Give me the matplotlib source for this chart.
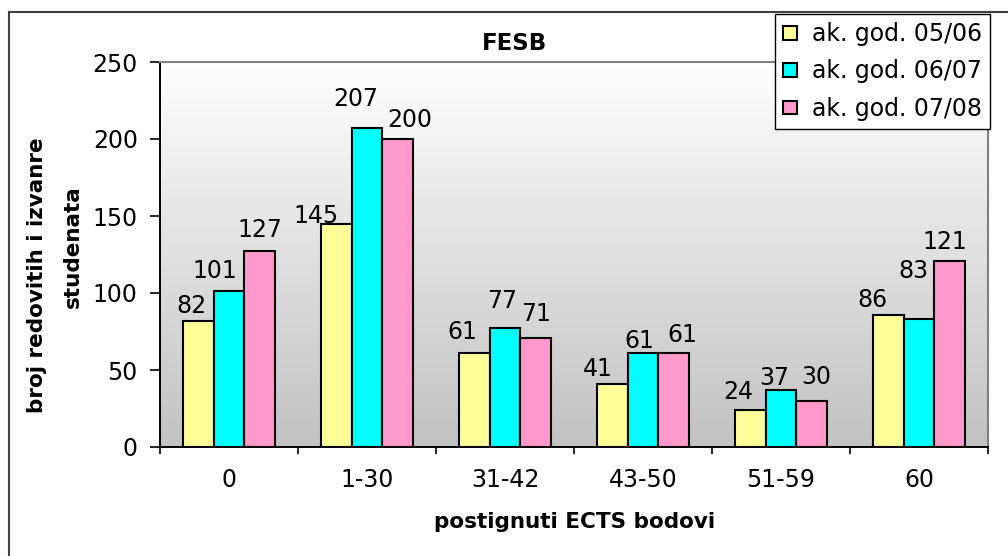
import numpy as np
import matplotlib
matplotlib.use("Agg")
import matplotlib.pyplot as plt
from matplotlib.lines import Line2D
from matplotlib.colors import LinearSegmentedColormap

plt.rcParams['font.family'] = ['DejaVu Sans']

# -----------------------------
# Data
# -----------------------------
categories = ["0", "1-30", "31-42", "43-50", "51-59", "60"]
series_names = ["ak. god. 05/06", "ak. god. 06/07", "ak. god. 07/08"]
god_0506 = [82, 145, 61, 41, 24, 86]
god_0607 = [101, 207, 77, 61, 37, 83]
god_0708 = [127, 200, 71, 61, 30, 121]
colors = ["#FFFF99", "#00FFFF", "#FF99CC"]

title = "FESB"
ylabel_1 = "broj redovitih i izvanre"
ylabel_2 = "studenata"
xlabel = "postignuti ECTS bodovi"

# data label nudges in pixels (the original labels were placed by hand)
label_dx = [[-7, -20, -12, -15, -12, -16],
            [-14, -11, -3, -4, -7, -6],
            [0, 12, 0, 9, 5, -5]]
label_gap = [[8, 1, 14, 8, 11, 8],
             [13, 22, 20, 5, 5, 41],
             [14, 12, 17, 11, 17, 12]]

W, H = 1008, 556
FS = 17      # regular text
FSB = 15.5   # bold axis titles

# -----------------------------
# Figure
# -----------------------------
fig = plt.figure(figsize=(W / 100, H / 100), dpi=100)
ax = fig.add_axes([160 / W, 1 - 447 / H, 828 / W, 385 / H])

# gradient background (white top -> gray bottom)
grad = np.linspace(0.0, 1.0, 256).reshape(-1, 1)
bg_cmap = LinearSegmentedColormap.from_list("bg", ["#ffffff", "#c2c2c2"])
ax.imshow(grad, cmap=bg_cmap, aspect="auto", extent=[0, 1, 0, 1],
          transform=ax.transAxes, zorder=0, vmin=0, vmax=1)

x = np.arange(len(categories))
w = 1 / 4.5
all_series = [god_0506, god_0607, god_0708]
for i, (vals, c, name) in enumerate(zip(all_series, colors, series_names)):
    bars = ax.bar(x + (i - 1) * w, vals, w, color=c, edgecolor="black",
                  linewidth=1.5, label=name, zorder=2)
    for j, (b, v) in enumerate(zip(bars, vals)):
        ax.annotate(str(v), (b.get_x() + b.get_width() / 2, v),
                    xytext=(label_dx[i][j], label_gap[i][j]),
                    textcoords="offset pixels",
                    ha="center", va="baseline", fontsize=FS, zorder=3)

ax.set_xlim(-0.5, len(categories) - 0.5)
ax.set_ylim(0, 250)
ax.set_yticks(range(0, 251, 50))
ax.set_xticks(np.arange(-0.5, len(categories), 1))
ax.set_xticklabels([])
ax.set_xticks(x, minor=True)
ax.set_xticklabels(categories, minor=True)
ax.tick_params(axis="x", which="minor", length=0, labelsize=FS, pad=15)
ax.tick_params(axis="x", which="major", length=5, width=1.2, direction="out")
ax.tick_params(axis="y", length=7, width=1.2, labelsize=FS, pad=9)

for s in ["top", "right"]:
    ax.spines[s].set_color("#808080")
    ax.spines[s].set_linewidth(1.5)
for s in ["left", "bottom"]:
    ax.spines[s].set_color("black")
    ax.spines[s].set_linewidth(1.4)

fig.text(515 / W, 1 - 50 / H, title, ha="center", va="baseline",
         fontsize=16.5, fontweight="bold")
fig.text(37 / W, 1 - 413 / H, ylabel_1, rotation=90, ha="center",
         va="bottom", fontsize=FSB, fontweight="bold")
fig.text(72.5 / W, 1 - 247 / H, ylabel_2, rotation=90, ha="center",
         va="center", fontsize=FSB, fontweight="bold")
fig.text(575 / W, 1 - 528 / H, xlabel, ha="center", va="baseline",
         fontsize=FSB, fontweight="bold")

# outer chart border (cut by the image edge on right and bottom)
fig.add_artist(Line2D([8.5 / W, 8.5 / W], [0, 1 - 12 / H], transform=fig.transFigure,
                      color="#404040", lw=1.5))
fig.add_artist(Line2D([8.5 / W, 1], [1 - 12 / H, 1 - 12 / H], transform=fig.transFigure,
                      color="#404040", lw=1.5))

leg = fig.legend(loc="upper right", bbox_to_anchor=(990 / W, 1 - 14 / H),
                 fontsize=FS, frameon=True, fancybox=False, framealpha=1,
                 edgecolor="black", handlelength=0.6, handleheight=0.5,
                 handletextpad=0.62, labelspacing=0.56, borderpad=0.35,
                 borderaxespad=0)
leg.get_frame().set_linewidth(1.0)
leg.set_zorder(5)

fig.savefig("out.png", dpi=100)
